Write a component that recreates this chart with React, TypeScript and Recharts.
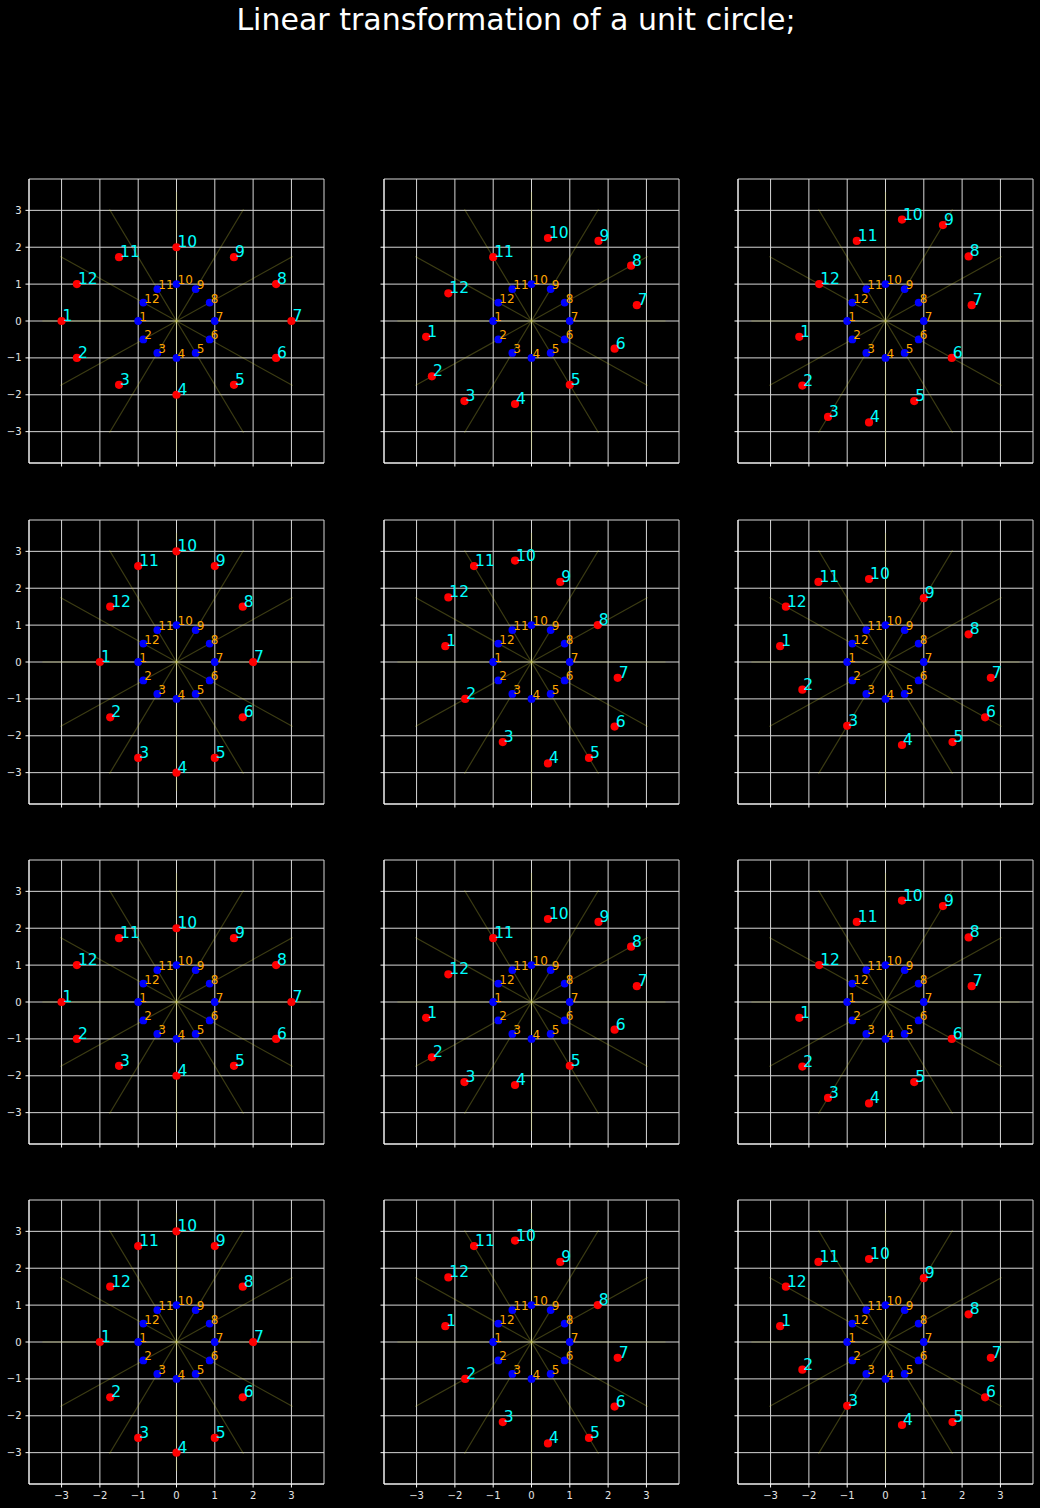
import React from 'react'
import {
  ScatterChart,
  Scatter,
  XAxis,
  YAxis,
  CartesianGrid,
  ReferenceLine,
} from 'recharts'

const LABELS = ['1', '2', '3', '4', '5', '6', '7', '8', '9', '10', '11', '12']

// unit circle points, starting at (-1, 0) and going counter-clockwise
const UNIT_X = [-1, -0.866, -0.5, 0, 0.5, 0.866, 1, 0.866, 0.5, 0, -0.5, -0.866]
const UNIT_Y = [0, -0.5, -0.866, -1, -0.866, -0.5, 0, 0.5, 0.866, 1, 0.866, 0.5]

// transformed points, six distinct shapes (the grid repeats them twice)
const SHAPE_X = [
  [-3, -2.6, -1.5, 0, 1.5, 2.6, 3, 2.6, 1.5, 0, -1.5, -2.6],
  [-2.75, -2.6, -1.75, -0.43, 1.0, 2.17, 2.75, 2.6, 1.75, 0.43, -1.0, -2.17],
  [-2.25, -2.17, -1.5, -0.43, 0.75, 1.73, 2.25, 2.17, 1.5, 0.43, -0.75, -1.73],
  [-2, -1.73, -1, 0, 1, 1.73, 2, 1.73, 1, 0, -1, -1.73],
  [-2.25, -1.73, -0.75, 0.43, 1.5, 2.17, 2.25, 1.73, 0.75, -0.43, -1.5, -2.17],
  [-2.75, -2.17, -1.0, 0.43, 1.75, 2.6, 2.75, 2.17, 1.0, -0.43, -1.75, -2.6],
]
const SHAPE_Y = [
  [0, -1, -1.73, -2, -1.73, -1, 0, 1, 1.73, 2, 1.73, 1],
  [-0.43, -1.5, -2.17, -2.25, -1.73, -0.75, 0.43, 1.5, 2.17, 2.25, 1.73, 0.75],
  [-0.43, -1.75, -2.6, -2.75, -2.17, -1.0, 0.43, 1.75, 2.6, 2.75, 2.17, 1.0],
  [0, -1.5, -2.6, -3, -2.6, -1.5, 0, 1.5, 2.6, 3, 2.6, 1.5],
  [0.43, -1.0, -2.17, -2.75, -2.6, -1.75, -0.43, 1.0, 2.17, 2.75, 2.6, 1.75],
  [0.43, -0.75, -1.73, -2.25, -2.17, -1.5, -0.43, 0.75, 1.73, 2.25, 2.17, 1.5],
]
const PANEL_SHAPE = [0, 1, 2, 3, 4, 5, 0, 1, 2, 3, 4, 5]

const TICKS = [-3, -2, -1, 0, 1, 2, 3]
const RAY_ANGLES = [0, 30, 60, 90, 120, 150]
const RAY_LENGTH = 3.5

const DOMAIN: [number, number] = [-3.85, 3.85]
const FONT = 'DejaVu Sans, sans-serif'
const COL_LEFT = [29, 384, 738]
const ROW_TOP = [179, 520, 860, 1200]
const PLOT_W = 295
const PLOT_H = 284

const unitPoints = UNIT_X.map((x, i) => ({ x, y: UNIT_Y[i], n: LABELS[i] }))

const rays = RAY_ANGLES.map(a => {
  const r = (a * Math.PI) / 180
  const dx = RAY_LENGTH * Math.cos(r)
  const dy = RAY_LENGTH * Math.sin(r)
  return [{ x: -dx, y: -dy }, { x: dx, y: dy }]
})

const fmt = (show: boolean) => (v: number) => (show ? String(v).replace('-', '\u2212') : '')

function Panel({ idx }: { idx: number }) {
  const row = Math.floor(idx / 3)
  const col = idx % 3
  const s = PANEL_SHAPE[idx]
  const moved = SHAPE_X[s].map((x, i) => ({ x, y: SHAPE_Y[s][i], n: LABELS[i] }))
  const showX = row === 3
  const showY = col === 0

  return (
    <div style={{ position: 'absolute', left: COL_LEFT[col] - 30, top: ROW_TOP[row] - 10 }}>
      <ScatterChart width={30 + PLOT_W + 10} height={10 + PLOT_H + 25} margin={{ top: 10, right: 10, bottom: 0, left: 0 }}>
        <CartesianGrid stroke="#d6d6d6" strokeWidth={1} fill="none" />
        <XAxis
          type="number"
          dataKey="x"
          domain={DOMAIN}
          ticks={TICKS}
          allowDataOverflow
          height={25}
          tickSize={3.5}
          tickMargin={4}
          stroke="#ffffff"
          tick={{ fill: '#e6e6e6', fontSize: 10, fontFamily: FONT }}
          tickFormatter={fmt(showX)}
        />
        <YAxis
          type="number"
          dataKey="y"
          domain={DOMAIN}
          ticks={TICKS}
          allowDataOverflow
          width={30}
          tickSize={3.5}
          tickMargin={4}
          stroke="#ffffff"
          tick={{ fill: '#e6e6e6', fontSize: 10, fontFamily: FONT }}
          tickFormatter={fmt(showY)}
        />
        <XAxis xAxisId="top" orientation="top" type="number" dataKey="x" domain={DOMAIN} height={0} tick={false} tickLine={false} stroke="#ffffff" />
        <YAxis yAxisId="right" orientation="right" type="number" dataKey="y" domain={DOMAIN} width={0} tick={false} tickLine={false} stroke="#ffffff" />
        {rays.map((seg, i) => (
          <ReferenceLine key={i} segment={seg} stroke="#c8c840" strokeOpacity={0.3} strokeWidth={1.2} />
        ))}
        <Scatter
          data={moved}
          isAnimationActive={false}
          shape={(p: any) => <circle cx={p.cx} cy={p.cy} r={4.1} fill="#ff0000" />}
        />
        <Scatter
          data={unitPoints}
          isAnimationActive={false}
          shape={(p: any) => <circle cx={p.cx} cy={p.cy} r={3.9} fill="#0000ff" />}
        />
        <Scatter
          data={moved}
          isAnimationActive={false}
          shape={(p: any) => (
            <text x={p.cx + 1} y={p.cy} fill="#00ffff" fontSize={15.5} fontFamily={FONT}>
              {p.payload.n}
            </text>
          )}
        />
        <Scatter
          data={unitPoints}
          isAnimationActive={false}
          shape={(p: any) => (
            <text x={p.cx + 1} y={p.cy} fill="#ffa500" fontSize={12} fontFamily={FONT}>
              {p.payload.n}
            </text>
          )}
        />
      </ScatterChart>
    </div>
  )
}

export default function App() {
  return (
    <div style={{ position: 'absolute', left: 0, top: 0, width: 1040, height: 1508, background: '#000000', fontFamily: FONT }}>
      <svg width={1040} height={50} style={{ position: 'absolute', left: 0, top: 0 }}>
        <text x={516} y={30} textAnchor="middle" fill="#ffffff" fontSize={30} fontFamily={FONT}>
          Linear transformation of a unit circle;
        </text>
      </svg>
      {PANEL_SHAPE.map((_, i) => (
        <Panel key={i} idx={i} />
      ))}
    </div>
  )
}
